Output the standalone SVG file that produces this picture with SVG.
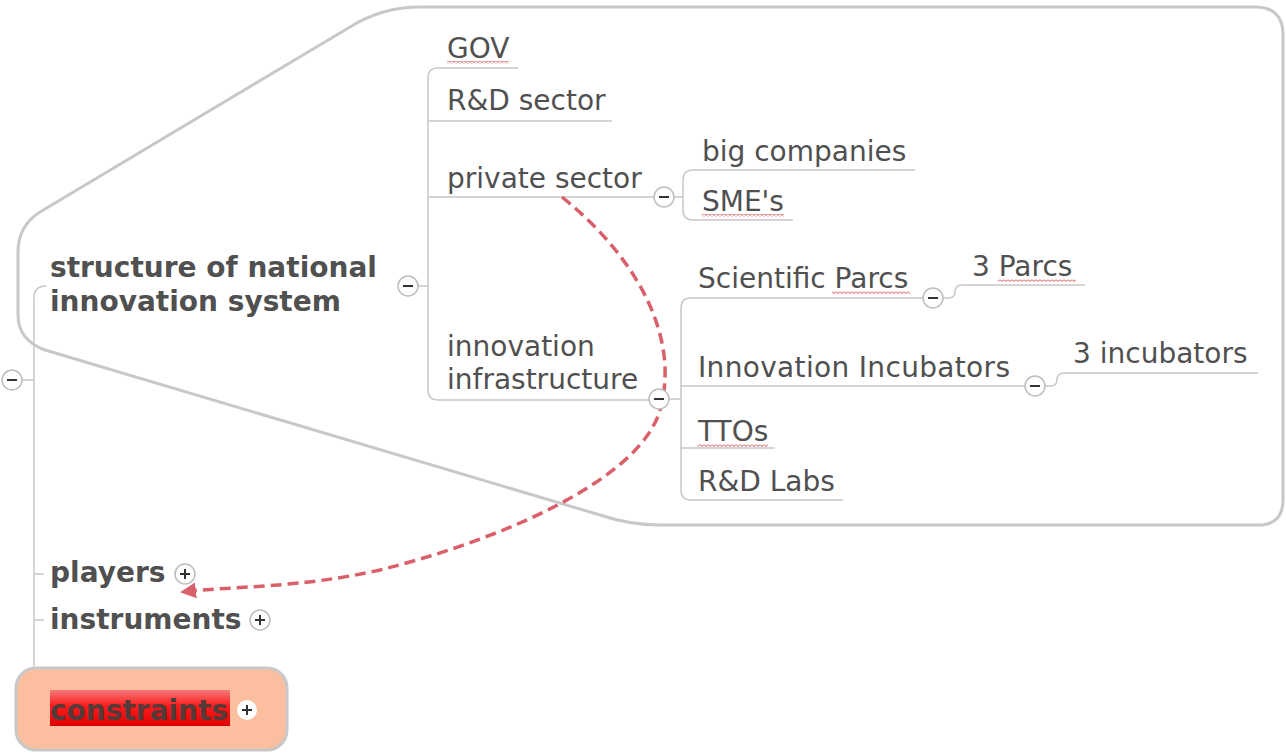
<svg xmlns="http://www.w3.org/2000/svg" width="1286" height="754" viewBox="0 0 1286 754">
<style>
.t{font-family:"DejaVu Sans","Verdana",sans-serif;font-size:28px;fill:#505050}
.b{font-family:"DejaVu Sans","Verdana",sans-serif;font-size:28px;font-weight:bold;fill:#505050}
.ln{fill:none;stroke:#c8c8c8;stroke-width:1.5}
.btn{fill:#fff;stroke:#bdbdbd;stroke-width:1.5}
.sym{stroke:#333;stroke-width:2}
.sq{fill:url(#wave)}
</style>
<defs>
<pattern id="wave" width="4" height="3" patternUnits="userSpaceOnUse">
<path d="M0 0.5 L2 2.5 L4 0.5" fill="none" stroke="#d03030" stroke-width="0.9"/>
</pattern>
<linearGradient id="hl" x1="0" y1="0" x2="0" y2="1">
<stop offset="0" stop-color="#f27a7a"/>
<stop offset="0.45" stop-color="#ff1a1a"/>
<stop offset="1" stop-color="#e00000"/>
</linearGradient>
<marker id="arr" markerUnits="userSpaceOnUse" markerWidth="20" markerHeight="20" refX="14" refY="8" orient="auto">
<path d="M0 0 L16 8 L0 16 Z" fill="#d9606a"/>
</marker>
</defs>

<g id="boundary">
<path d="M450 7 L1255 7 Q1283 7 1283 35 L1283 500 Q1283 525 1258 525 L660 525 Q630 525 600 515 L45 350 Q18 340 18 315 L18 252 Q18 226 40 212 L350 27 Q382 7 420 7 Z" fill="none" stroke="#c8c8c8" stroke-width="3"/>
</g>

<g id="connectors">
<path class="ln" d="M22 380 L34 380 M46 286 Q34 286 34 298 L34 668 M34 574 L44 574 M34 620 L44 620"/>
<path class="ln" d="M418 286 L428 286 M518 68 L438 68 Q428 68 428 78 L428 390 Q428 400 438 400 L649 400 M428 121 L612 121 M428 197 L654 197"/>
<path class="ln" d="M674 197 L683 197 M915 170 L693 170 Q683 170 683 180 L683 210 Q683 220 693 220 L793 220"/>
<path class="ln" d="M669 399 L681 399 M923 298 L691 298 Q681 298 681 308 L681 490 Q681 500 691 500 L843 500 M681 386 L1025 386 M681 448 L775 448"/>
<path class="ln" d="M943 298 L948 298 Q955 298 955 292 Q955 285 962 285 L1085 285"/>
<path class="ln" d="M1045 386 L1050 386 Q1057 386 1057 380 Q1057 373 1064 373 L1258 373"/>
<path d="M562 197 C640 260 680 340 660 410 C640 480 500 540 380 570 C300 588 235 586 182 592" fill="none" stroke="#d9606a" stroke-width="3.5" stroke-dasharray="11 6" marker-end="url(#arr)"/>
</g>

<g id="root">
<circle class="btn" cx="12" cy="380" r="10"/><line class="sym" x1="7" y1="380" x2="17" y2="380"/>
</g>

<g id="structure">
<text class="b" x="50" y="277">structure of national</text>
<text class="b" x="50" y="311">innovation system</text>
<circle class="btn" cx="408" cy="286" r="10"/><line class="sym" x1="403" y1="286" x2="413" y2="286"/>
</g>

<g id="gov">
<text class="t" x="447" y="58">GOV</text>
<rect class="sq" x="447" y="61" width="62" height="3"/>
</g>
<g id="rd-sector"><text class="t" x="447" y="110">R&amp;D sector</text></g>
<g id="private-sector">
<text class="t" x="447" y="188">private sector</text>
<circle class="btn" cx="664" cy="197" r="10"/><line class="sym" x1="659" y1="197" x2="669" y2="197"/>
</g>
<g id="big-companies"><text class="t" x="702" y="161">big companies</text></g>
<g id="smes">
<text class="t" x="702" y="211">SME's</text>
<rect class="sq" x="702" y="214" width="82" height="3"/>
</g>
<g id="innovation-infrastructure">
<text class="t" x="447" y="356">innovation</text>
<text class="t" x="447" y="389">infrastructure</text>
<circle class="btn" cx="659" cy="399" r="10"/><line class="sym" x1="654" y1="399" x2="664" y2="399"/>
</g>
<g id="scientific-parcs">
<text class="t" x="698" y="288">Scientific Parcs</text>
<rect class="sq" x="832" y="291" width="78" height="3"/>
<circle class="btn" cx="933" cy="298" r="10"/><line class="sym" x1="928" y1="298" x2="938" y2="298"/>
</g>
<g id="three-parcs">
<text class="t" x="972" y="276">3 Parcs</text>
<rect class="sq" x="998" y="279" width="78" height="3"/>
</g>
<g id="innovation-incubators">
<text class="t" x="698" y="377" textLength="312">Innovation Incubators</text>
<circle class="btn" cx="1035" cy="386" r="10"/><line class="sym" x1="1030" y1="386" x2="1040" y2="386"/>
</g>
<g id="three-incubators"><text class="t" x="1073" y="363">3 incubators</text></g>
<g id="ttos">
<text class="t" x="698" y="441">TTOs</text>
<rect class="sq" x="698" y="444" width="70" height="3"/>
</g>
<g id="rd-labs"><text class="t" x="698" y="491">R&amp;D Labs</text></g>

<g id="players">
<text class="b" x="50" y="582">players</text>
<circle class="btn" cx="185" cy="574" r="10"/><path class="sym" d="M180 574 L190 574 M185 569 L185 579"/>
</g>
<g id="instruments">
<text class="b" x="50" y="629">instruments</text>
<circle class="btn" cx="260" cy="620" r="10"/><path class="sym" d="M255 620 L265 620 M260 615 L260 625"/>
</g>
<g id="constraints">
<rect x="16" y="668" width="271" height="82" rx="20" fill="#fbbf9f" stroke="#c8c8c8" stroke-width="3"/>
<rect x="50" y="690" width="180" height="36" fill="url(#hl)"/>
<text class="b" x="50" y="720" style="fill:#553a3a">constraints</text>
<circle cx="247" cy="710" r="10" fill="#fff"/><path class="sym" d="M242 710 L252 710 M247 705 L247 715"/>
</g>
</svg>
